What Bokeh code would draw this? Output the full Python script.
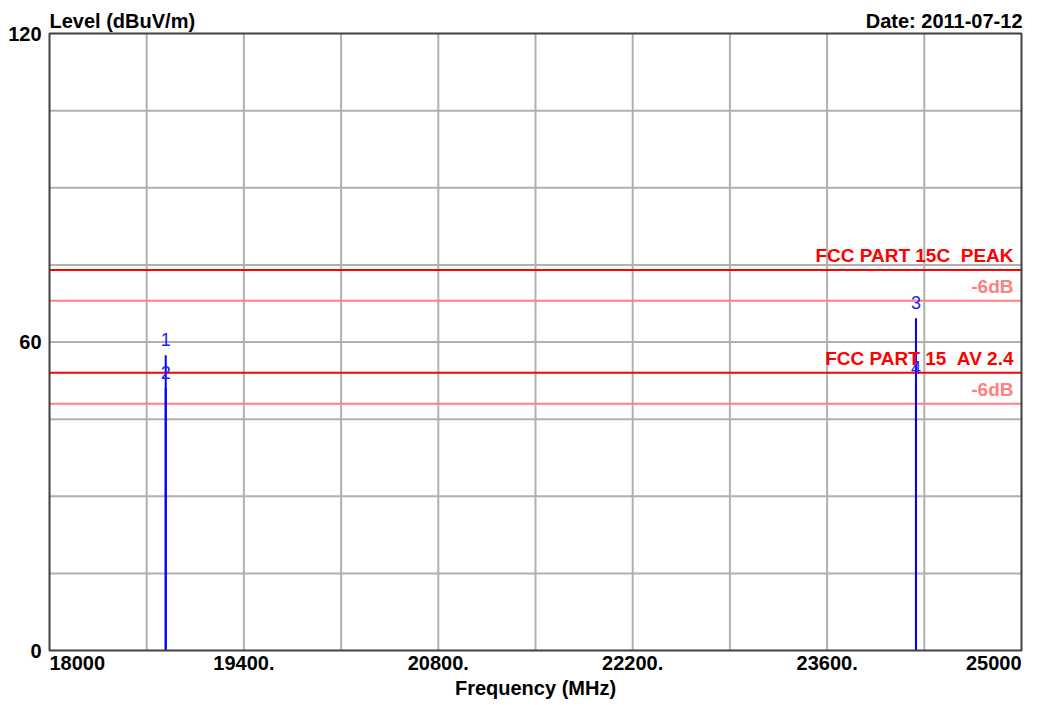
from bokeh.plotting import figure
from bokeh.models import Range1d, Label
from bokeh.core.properties import value
from bokeh.embed import file_html
from bokeh.resources import INLINE

# ---- data ----
x_start, x_end = 18000, 25000
y_start, y_end = 0, 120
x_label_ticks = [18000, 19400, 20800, 22200, 23600, 25000]
x_label_texts = ["18000", "19400.", "20800.", "22200.", "23600.", "25000"]
x_grid_ticks = [18700, 19400, 20100, 20800, 21500, 22200, 22900, 23600, 24300]
y_label_ticks = [0, 60, 120]
y_label_texts = ["0", "60", "120"]
y_grid_ticks = [15, 30, 45, 60, 75, 90, 105]

marker_ids = ["1", "2", "3", "4"]
marker_freqs = [18837, 18837, 24240, 24240]
marker_levels = [57.4, 51.1, 64.6, 52.1]

limit_names = ["FCC PART 15C \u00a0PEAK", "FCC PART 15 \u00a0AV 2.4"]
limit_levels = [74, 54]
margin_db = 6
margin_text = "-6dB"

y_title = "Level (dBuV/m)"
x_title = "Frequency (MHz)"
date_text = "Date: 2011-07-12"

FONT = "Liberation Sans"
FS = "20px"
FS_LIM = "19px"

# ---- layout (pixels of the canvas) ----
W, H = 1025, 700
L, R, T, B = 49, 1021, 33, 650
kx = (R - L) / (x_end - x_start)
ky = (B - T) / (y_end - y_start)
x_lo, x_hi = x_start - L / kx, x_end + (W - R) / kx
y_lo, y_hi = y_start - (H - B) / ky, y_end + T / ky

p = figure(width=W, height=H, output_backend="svg", toolbar_location=None,
           x_range=Range1d(x_lo, x_hi), y_range=Range1d(y_lo, y_hi),
           x_axis_location=None, y_axis_location=None,
           min_border=0, min_border_left=0, min_border_right=0,
           min_border_top=0, min_border_bottom=0)
p.background_fill_color = "white"
p.border_fill_color = "white"
p.outline_line_color = None
p.grid.visible = False

GRID = "#b0b0b0"
n_xg, n_yg = len(x_grid_ticks), len(y_grid_ticks)
# grid
p.segment(x0=x_grid_ticks, y0=[y_start] * n_xg, x1=x_grid_ticks, y1=[y_end] * n_xg,
          line_color=GRID, line_width=2)
p.segment(x0=[x_start] * n_yg, y0=y_grid_ticks, x1=[x_end] * n_yg, y1=y_grid_ticks,
          line_color=GRID, line_width=2)

# limit lines
n_l = len(limit_levels)
margin_levels = [lv - margin_db for lv in limit_levels]
p.segment(x0=[x_start] * n_l, y0=margin_levels, x1=[x_end] * n_l, y1=margin_levels,
          line_color="#ff8080", line_width=2)
p.segment(x0=[x_start] * n_l, y0=limit_levels, x1=[x_end] * n_l, y1=limit_levels,
          line_color="#ff0000", line_width=2)

# markers
p.segment(x0=marker_freqs, y0=[y_start] * len(marker_freqs), x1=marker_freqs, y1=marker_levels,
          line_color="#0000ff", line_width=2)
p.text(x=marker_freqs, y=marker_levels, text=marker_ids, text_align="center",
       text_baseline="bottom", y_offset=-9, text_font=value(FONT), text_font_size="18px",
       text_color="#2020ff")

# frame
p.quad(left=[x_start], right=[x_end], bottom=[y_start], top=[y_end],
       fill_color=None, line_color="#404040", line_width=2)


def add_text(x, y, text, align, baseline, xo=0, yo=0, color="black", size=FS):
    p.add_layout(Label(x=x, y=y, text=text, text_align=align, text_baseline=baseline,
                       x_offset=xo, y_offset=yo, text_font=FONT, text_font_style="bold",
                       text_font_size=size, text_color=color))


# y tick labels
for t, s in zip(y_label_ticks, y_label_texts):
    add_text(x_start, t, s, "right", "middle", xo=-8)

# x tick labels
for i, (t, s) in enumerate(zip(x_label_ticks, x_label_texts)):
    align = "left" if i == 0 else ("right" if i == len(x_label_ticks) - 1 else "center")
    add_text(t, y_start, s, align, "top", yo=-5)

add_text((x_start + x_end) / 2, y_start, x_title, "center", "bottom", yo=-48)
add_text(x_start, y_end, y_title, "left", "bottom", yo=2)
add_text(x_end, y_end, date_text, "right", "bottom", xo=1, yo=2)

# limit labels
for name, lv in zip(limit_names, limit_levels):
    add_text(x_end, lv, name, "right", "bottom", xo=-8, yo=4, color="#ff0000", size=FS_LIM)
    add_text(x_end, lv - margin_db, margin_text, "right", "bottom", xo=-8, yo=4,
             color="#ff8080", size=FS_LIM)

open("out.html", "w").write(file_html(p, INLINE))
